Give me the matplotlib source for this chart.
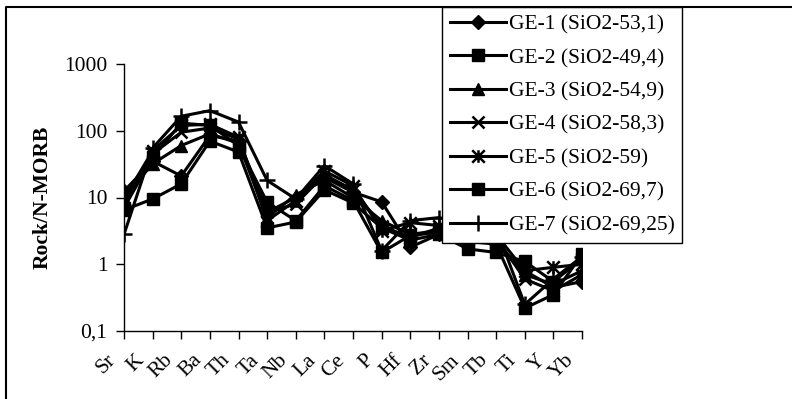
import numpy as np
import matplotlib
matplotlib.use("Agg")
import matplotlib.pyplot as plt
import matplotlib.transforms as mtransforms
from matplotlib.lines import Line2D
from matplotlib.path import Path

plt.rcParams['font.family'] = ['Liberation Serif', 'DejaVu Serif']

# elements (x categories)
elements = ["Sr", "K", "Rb", "Ba", "Th", "Ta", "Nb", "La", "Ce", "P",
            "Hf", "Zr", "Sm", "Tb", "Ti", "Y", "Yb"]

labels = ["GE-1 (SiO2-53,1)", "GE-2 (SiO2-49,4)", "GE-3 (SiO2-54,9)",
          "GE-4 (SiO2-58,3)", "GE-5 (SiO2-59)", "GE-6 (SiO2-69,7)",
          "GE-7 (SiO2-69,25)"]

# Rock / N-MORB values
ge1 = [12.5, 35, 21, 85, 70, 6, 10, 20, 12, 8.6, 1.8, 2.8, 2.5, 2.0, 0.8, 0.45, 0.55]
ge2 = [6.5, 9.5, 16, 70, 48, 3.5, 4.3, 13, 8.3, 3.5, 2.3, 2.8, 1.7, 1.5, 1.1, 0.55, 1.2]
ge3 = [10, 32, 60, 90, 65, 5, 11, 18, 10, 4.5, 2.8, 3.2, 2.8, 2.2, 0.7, 0.5, 0.8]
ge4 = [9, 45, 95, 110, 75, 6, 8, 22, 13, 3.8, 2.5, 3.5, 3.0, 2.5, 0.6, 0.4, 0.7]
ge5 = [9.5, 50, 120, 125, 80, 4.5, 9, 25, 15, 3.2, 4.2, 3.8, 3.2, 2.8, 0.8, 0.9, 1.0]
ge6 = [7, 40, 130, 120, 60, 8.5, 4.5, 15, 9, 1.5, 2.7, 3.0, 2.2, 2.0, 0.22, 0.35, 1.4]
ge7 = [2.8, 55, 165, 200, 135, 18, 9.5, 30, 16, 1.6, 4.5, 5.0, 4.0, 3.5, 0.25, 0.6, 1.3]

series = [ge1, ge2, ge3, ge4, ge5, ge6, ge7]

# asterisk marker like Excel: x with a vertical bar
asterisk = Path([(0, -1), (0, 1), (-1, -1), (1, 1), (-1, 1), (1, -1)],
                [Path.MOVETO, Path.LINETO, Path.MOVETO, Path.LINETO,
                 Path.MOVETO, Path.LINETO])

styles = [
    dict(marker='D', markersize=7.5),
    dict(marker='s', markersize=9),
    dict(marker='^', markersize=9),
    dict(marker='x', markersize=9, markeredgewidth=1.8),
    dict(marker=asterisk, markersize=9, markeredgewidth=1.8),
    dict(marker='s', markersize=9),
    dict(marker='+', markersize=12, markeredgewidth=1.8),
]

fig = plt.figure(figsize=(7.92, 3.99), dpi=100)
ax = fig.add_axes([124 / 792, 1 - 331 / 399, (582 - 124) / 792, (331 - 64) / 399])

x = np.arange(len(elements))
for vals, lab, st in zip(series, labels, styles):
    ax.plot(x, vals, color='black', linewidth=2.2, markerfacecolor='black',
            markeredgecolor='black', label=lab, **st)

ax.set_yscale('log')
ax.set_ylim(0.1, 1000)
ax.set_xlim(0, len(elements) - 1)
ax.set_yticks([0.1, 1, 10, 100, 1000])
ax.set_yticklabels(["0,1", "1", "10", "100", "1000"])
ax.minorticks_off()
ax.set_xticks(x)
ax.set_xticklabels(elements, rotation=45, ha='right', va='center',
                   rotation_mode='anchor')
ax.tick_params(axis='both', direction='out', length=6, width=1, labelsize=15.5)
ax.tick_params(axis='y', pad=6)
ax.tick_params(axis='x', pad=13)
shift = mtransforms.ScaledTranslation(-0.11, 0, fig.dpi_scale_trans)
for t in ax.get_xticklabels():
    t.set_transform(t.get_transform() + shift)
for s in ['top', 'right']:
    ax.spines[s].set_visible(False)
for s in ['left', 'bottom']:
    ax.spines[s].set_linewidth(1)

ax.set_ylabel("Rock/N-MORB", fontsize=15.5, fontweight='bold', labelpad=8)

leg = ax.legend(loc='upper left', bbox_to_anchor=(442 / 792, 1 - 7 / 399),
                bbox_transform=fig.transFigure, borderaxespad=0,
                fontsize=15.5, frameon=True, fancybox=False, framealpha=1,
                edgecolor='black', handlelength=2.6, handletextpad=0.15,
                labelspacing=0.62, borderpad=0.35)
leg.get_frame().set_linewidth(1)

# outer border (left and top edges of the chart area)
fig.add_artist(Line2D([6 / 792, 6 / 792, 1], [0, 1 - 7 / 399, 1 - 7 / 399],
                      transform=fig.transFigure, color='black', linewidth=1.5))

fig.savefig("out.png", dpi=100)
